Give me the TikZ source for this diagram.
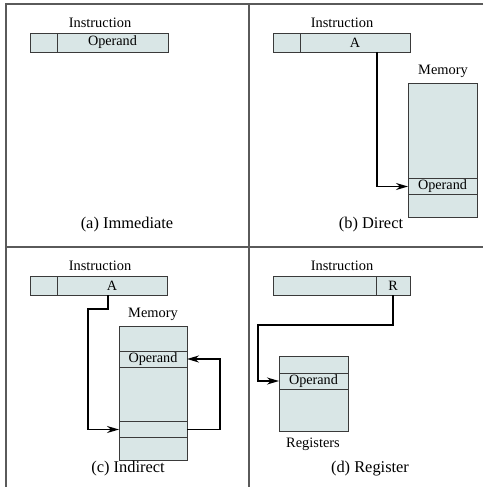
\documentclass[tikz,border=0pt]{standalone}
\usepackage{fontspec}
\setmainfont{Liberation Serif}
\usepackage{xcolor}
\usepackage{tikz}
\usetikzlibrary{arrows.meta}
\definecolor{cellfill}{HTML}{D9E6E6}
\definecolor{edge}{HTML}{3A3A3A}
\definecolor{frame}{HTML}{5A5A5A}
\tikzset{
  cell/.style={draw=edge, fill=cellfill, line width=0.9pt, inner sep=0pt, outer sep=0pt,
    minimum height=19pt, font=\fontsize{14.2}{16}\selectfont},
  row/.style={cell, minimum height=16pt},
  ptr/.style={draw=black, line width=1.6pt, line join=miter, -{Stealth[length=12pt,width=7pt]}},
  panel/.style={draw=frame, line width=1.3pt},
  lab/.style={font=\fontsize{14.4}{16}\selectfont},
  captext/.style={font=\fontsize{16.4}{18}\selectfont},
}

\begin{document}
\begin{tikzpicture}[x=1pt,y=-1pt]
  \useasboundingbox (0,0) rectangle (483,487);

  % frame
  \draw[panel] (483,4) -- (6,4) -- (6,487);
  \draw[panel] (249,4) -- (249,487);
  \draw[panel] (6,247) -- (483,247);

  % (a) immediate
  \node[lab] (ains) at (100,23) {Instruction};
  \node[cell,minimum width=27pt] (aop) at (43.5,42.5) {};
  \node[cell,minimum width=111pt] (aval) at (112.5,42.5) {Operand};
  \node[captext] (acap) at (127,225) {(a) Immediate};

  % (b) direct
  \node[lab] (bins) at (342,23) {Instruction};
  \node[cell,minimum width=27pt] (bop) at (286.5,42.5) {};
  \node[cell,minimum width=110pt] (bA) at (355,42.5) {A};
  \node[lab] (bmemlab) at (443,71) {Memory};
  \node[cell,minimum width=69pt,minimum height=134pt] (bmem) at (442.5,150) {};
  \node[row,minimum width=69pt] (bval) at (442.5,186.5) {Operand};
  \draw[ptr] ([xshift=22pt]bA.south) |- (bval.west);
  \node[captext] (bcap) at (371,225) {(b) Direct};

  % (c) indirect
  \node[lab] (cins) at (100,266) {Instruction};
  \node[cell,minimum width=27pt] (cop) at (43.5,285.5) {};
  \node[cell,minimum width=110pt] (cA) at (112,285.5) {A};
  \node[lab] (cmemlab) at (153,314) {Memory};
  \node[cell,minimum width=68pt,minimum height=134pt] (cmem) at (153,393) {};
  \node[row,minimum width=68pt] (cval) at (153,359) {Operand};
  \node[row,minimum width=68pt] (cptr) at (153,429.5) {};
  \coordinate (cbend) at (88,309);
  \draw[ptr] ([xshift=-4pt]cA.south) |- (cbend) |- (cptr.west);
  \draw[ptr] (cptr.east) -- ++(33,0) |- (cval.east);
  \node[captext] (ccap) at (128,469) {(c) Indirect};

  % (d) register
  \node[lab] (dins) at (342,266) {Instruction};
  \node[cell,minimum width=103pt] (dop) at (324.5,285.5) {};
  \node[cell,minimum width=34pt] (dR) at (393,285.5) {R};
  \node[cell,minimum width=69pt,minimum height=75pt] (dreg) at (313.5,393.5) {};
  \node[row,minimum width=69pt] (dval) at (313.5,381) {Operand};
  \node[lab] (dreglab) at (313,444) {Registers};
  \coordinate (dbend) at (258,325);
  \draw[ptr] (dR.south) |- (dbend) |- (dval.west);
  \node[captext] (dcap) at (370,469) {(d) Register};
\end{tikzpicture}
\end{document}
